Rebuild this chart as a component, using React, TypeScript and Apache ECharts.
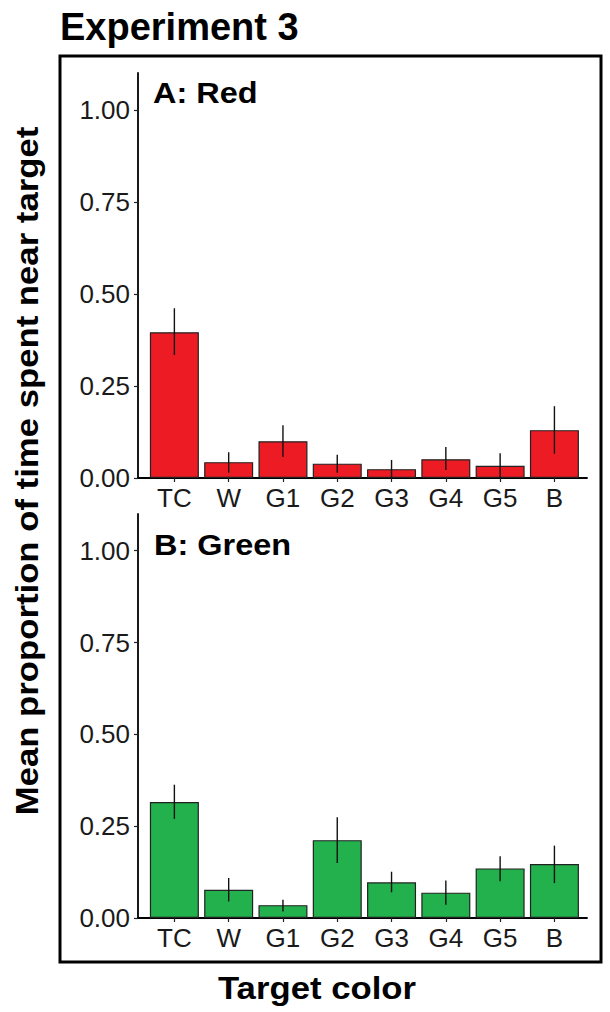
import React, { useEffect, useRef } from "react";
import * as echarts from "echarts";

const categories = ["TC", "W", "G1", "G2", "G3", "G4", "G5", "B"];
const yTicks = [0, 0.25, 0.5, 0.75, 1.0];

const redMeans = [0.396, 0.043, 0.1, 0.039, 0.024, 0.051, 0.033, 0.13];
const redLow = [0.334, 0.014, 0.057, 0.014, 0.0, 0.022, 0.0, 0.066];
const redHigh = [0.461, 0.07, 0.143, 0.063, 0.049, 0.084, 0.067, 0.195];

const greenMeans = [0.316, 0.077, 0.035, 0.212, 0.097, 0.069, 0.135, 0.147];
const greenLow = [0.27, 0.045, 0.018, 0.15, 0.07, 0.036, 0.1, 0.095];
const greenHigh = [0.363, 0.109, 0.05, 0.274, 0.126, 0.102, 0.168, 0.197];

const FONT = "'Liberation Sans', Arial, sans-serif";

function buildAxes(gridIndex: number) {
  const xAxis = {
    type: "value",
    gridIndex,
    min: 0.33,
    max: 8.6,
    splitLine: { show: false },
    axisLine: { show: true, lineStyle: { color: "#000", width: 1.8 } },
    axisTick: {
      show: true,
      length: 4,
      lineStyle: { color: "#222", width: 1.2 },
      customValues: categories.map((_, i) => i + 1),
    },
    axisLabel: {
      show: true,
      margin: 7,
      fontFamily: FONT,
      fontSize: 26,
      color: "#1a1a1a",
      customValues: categories.map((_, i) => i + 1),
      formatter: (v: number) => categories[Math.round(v) - 1] ?? "",
    },
  };
  const yAxis = {
    type: "value",
    gridIndex,
    min: 0,
    max: 1.1,
    splitLine: { show: false },
    axisLine: { show: true, lineStyle: { color: "#000", width: 1.8 } },
    axisTick: {
      show: true,
      length: 4,
      lineStyle: { color: "#222", width: 1.2 },
      customValues: yTicks,
    },
    axisLabel: {
      show: true,
      margin: 8,
      fontFamily: FONT,
      fontSize: 26,
      color: "#1a1a1a",
      customValues: yTicks,
      formatter: (v: number) => v.toFixed(2),
    },
  };
  return { xAxis, yAxis };
}

function barSeries(idx: number, means: number[], color: string) {
  return {
    type: "bar",
    xAxisIndex: idx,
    yAxisIndex: idx,
    barWidth: 49,
    data: means.map((v, i) => [i + 1, v]),
    itemStyle: { color, borderColor: "#222", borderWidth: 1.2 },
    z: 2,
  };
}

function errSeries(idx: number, lo: number[], hi: number[]) {
  return {
    type: "custom",
    xAxisIndex: idx,
    yAxisIndex: idx,
    data: lo.map((l, i) => [i + 1, l, hi[i]]),
    renderItem: (params: any, api: any) => {
      const x = api.value(0);
      const p1 = api.coord([x, api.value(1)]);
      const p2 = api.coord([x, api.value(2)]);
      return {
        type: "line",
        shape: { x1: p1[0], y1: p1[1], x2: p2[0], y2: p2[1] },
        style: { stroke: "#111", lineWidth: 1.4 },
      };
    },
    z: 5,
  };
}

export default function App() {
  const ref = useRef<HTMLDivElement>(null);
  useEffect(() => {
    if (!ref.current) return;
    const chart = echarts.init(ref.current, null, { renderer: "svg" });
    const a0 = buildAxes(0);
    const a1 = buildAxes(1);
    chart.setOption({
      animation: false,
      backgroundColor: "#fff",
      grid: [
        { left: 138, top: 73, width: 449, height: 405 },
        { left: 138, top: 514, width: 449, height: 404 },
      ],
      xAxis: [a0.xAxis, a1.xAxis],
      yAxis: [a0.yAxis, a1.yAxis],
      series: [
        barSeries(0, redMeans, "#ED1C24"),
        errSeries(0, redLow, redHigh),
        barSeries(1, greenMeans, "#22B14C"),
        errSeries(1, greenLow, greenHigh),
      ],
      graphic: [
        {
          type: "rect",
          shape: { x: 60, y: 56, width: 541, height: 906 },
          style: { fill: "none", stroke: "#000", lineWidth: 3 },
          z: 10,
        },
        {
          type: "text",
          x: 60,
          y: 27,
          style: {
            text: "Experiment 3",
            fontFamily: FONT,
            fontWeight: "bold",
            fontSize: 38,
            fill: "#000",
            textAlign: "left",
            textVerticalAlign: "middle",
          },
        },
        {
          type: "text",
          x: 153,
          y: 93,
          scaleX: 1.12,
          style: {
            text: "A: Red",
            fontFamily: FONT,
            fontWeight: "bold",
            fontSize: 29,
            fill: "#000",
            textAlign: "left",
            textVerticalAlign: "middle",
          },
        },
        {
          type: "text",
          x: 154,
          y: 545,
          scaleX: 1.12,
          style: {
            text: "B: Green",
            fontFamily: FONT,
            fontWeight: "bold",
            fontSize: 29,
            fill: "#000",
            textAlign: "left",
            textVerticalAlign: "middle",
          },
        },
        {
          type: "text",
          x: 317,
          y: 988,
          scaleX: 1.12,
          style: {
            text: "Target color",
            fontFamily: FONT,
            fontWeight: "bold",
            fontSize: 31,
            fill: "#000",
            textAlign: "center",
            textVerticalAlign: "middle",
          },
        },
        {
          type: "text",
          x: 27,
          y: 471,
          rotation: Math.PI / 2,
          scaleX: 1.12,
          style: {
            text: "Mean proportion of time spent near target",
            fontFamily: FONT,
            fontWeight: "bold",
            fontSize: 31,
            fill: "#000",
            textAlign: "center",
            textVerticalAlign: "middle",
          },
        },
      ],
    });
    return () => chart.dispose();
  }, []);
  return (
    <div
      ref={ref}
      style={{ position: "fixed", left: 0, top: 0, width: 610, height: 1012 }}
    />
  );
}
